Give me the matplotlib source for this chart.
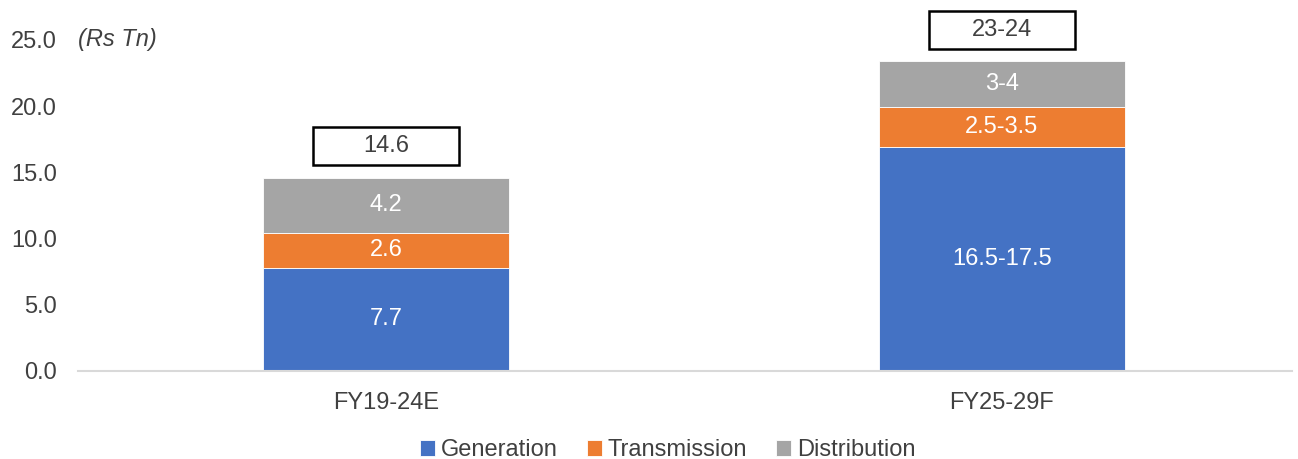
import matplotlib.pyplot as plt
from matplotlib.patches import Rectangle
import numpy as np

plt.rcParams['font.family'] = ['Liberation Sans', 'DejaVu Sans']

categories = ["FY19-24E", "FY25-29F"]
series_names = ["Generation", "Transmission", "Distribution"]
generation = [7.8, 16.9]
transmission = [2.6, 3.0]
distribution = [4.2, 3.5]
gen_labels = ["7.7", "16.5-17.5"]
trans_labels = ["2.6", "2.5-3.5"]
dist_labels = ["4.2", "3-4"]
total_labels = ["14.6", "23-24"]
colors = ["#4472C4", "#ED7D31", "#A5A5A5"]

fs = 17

fig = plt.figure(figsize=(12.98, 4.59), dpi=100)
ax = fig.add_axes([0.060, 0.192, 0.935, 0.721])

x = np.arange(len(categories))
w = 0.4
bottom = np.zeros(len(categories))
for vals, labs, col, name in zip([generation, transmission, distribution],
                                 [gen_labels, trans_labels, dist_labels],
                                 colors, series_names):
    ax.bar(x, vals, w, bottom=bottom, color=col, edgecolor="white",
           linewidth=0.6, label=name)
    for xi, b, v, lab in zip(x, bottom, vals, labs):
        ax.text(xi, b + v / 2, lab, ha="center", va="center", color="white", fontsize=fs)
    bottom = bottom + np.array(vals)

# total boxes above bars
box_w, box_h = 0.236, 2.87
for xi, tot, lab in zip(x, bottom, total_labels):
    yc = tot + 2.35
    ax.add_patch(Rectangle((xi - box_w / 2, yc - box_h / 2), box_w, box_h,
                           facecolor="white", edgecolor="black", linewidth=1.8,
                           clip_on=False, zorder=3))
    ax.text(xi, yc, lab, ha="center", va="center", color="#404040", fontsize=fs,
            zorder=4, clip_on=False)

ax.set_xlim(-0.5, 1.47)
ax.set_ylim(0, 25)
ax.set_yticks(np.arange(0, 26, 5))
ax.set_yticklabels([f"{v:.1f}" for v in np.arange(0, 26, 5)])
ax.set_xticks(x)
ax.set_xticklabels(categories)
ax.tick_params(axis="both", length=0, labelsize=fs, labelcolor="#404040")
ax.tick_params(axis="y", pad=15)
ax.tick_params(axis="x", pad=15)
for s in ["top", "right", "left"]:
    ax.spines[s].set_visible(False)
ax.spines["bottom"].set_color("#D9D9D9")
ax.spines["bottom"].set_linewidth(1.5)

ax.text(0.0, 25, "(Rs Tn)", transform=ax.get_yaxis_transform(), ha="left",
        va="center", fontsize=fs, style="italic", color="#404040")

ax.legend(loc="center", bbox_to_anchor=(0.486, -0.24), ncol=3, frameon=False,
          fontsize=fs, handlelength=0.65, handleheight=0.65, handletextpad=0.25,
          columnspacing=1.2, labelcolor="#404040")

fig.savefig("out.png", dpi=100)
